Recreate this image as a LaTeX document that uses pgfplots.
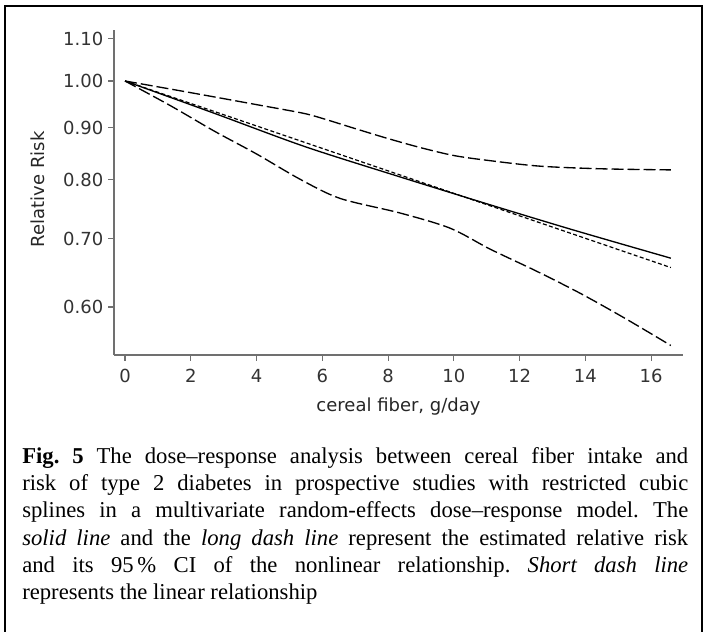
\documentclass[border=0pt]{standalone}
\usepackage{pgfplots}
\pgfplotsset{compat=1.18}
\usepackage{fontspec}
\setmainfont{Liberation Serif}
\newfontfamily\axfont{DejaVu Sans}
\definecolor{axgray}{HTML}{707070}
\definecolor{lblgray}{HTML}{333333}
\begin{document}
\begin{tikzpicture}
\useasboundingbox (0,0) rectangle (528.75pt,-473.25pt);
\draw[line width=1.7pt] (3.75pt,-474pt) -- (3.75pt,-4.5pt) -- (526.5pt,-4.5pt) -- (526.5pt,-474pt);
\begin{axis}[
  at={(85.5pt,-266.25pt)}, anchor=south west,
  scale only axis, width=426.75pt, height=243.75pt,
  ymode=log, xmin=-0.335, xmax=16.97, ymin=0.5383, ymax=1.1222,
  axis x line*=bottom, axis y line*=left,
  axis line style={axgray, line width=0.8pt},
  xtick={0,2,...,16}, ytick={0.6,0.7,0.8,0.9,1.0,1.1},
  yticklabels={0.60,0.70,0.80,0.90,1.00,1.10},
  yminorticks=false, xminorticks=false,
  /pgf/number format/assume math mode=true,
  tick style={axgray, line width=0.8pt}, tick align=outside, major tick length=4.5pt,
  ticklabel style={font=\axfont\fontsize{13.5}{15}\selectfont, text=lblgray},
  xticklabel style={yshift=-2.5pt},
  xlabel={cereal fiber, g/day}, ylabel={Relative Risk},
  label style={font=\axfont\fontsize{13.5}{15}\selectfont, text=black!85},
  xlabel style={at={(axis description cs:0.5,-0.16)}, anchor=center},
  ylabel style={at={(axis description cs:-0.1336,0.51)}, anchor=center},
  clip=false,
]
\addplot[black, line width=1pt, smooth] coordinates {(0,1) (2.74,0.929) (5.48,0.862) (8.37,0.805) (11.1,0.756) (13.64,0.714) (16.6,0.670)};
\addplot[black, line width=1pt, smooth, dash pattern=on 9pt off 3pt] coordinates {(0,1) (2,0.974) (4,0.948) (5.4,0.930) (6,0.919) (7,0.898) (8,0.878) (9,0.860) (10,0.845) (11,0.836) (12.6,0.825) (14.5,0.820) (16.6,0.818)};
\addplot[black, line width=1pt, smooth, dash pattern=on 9pt off 3pt] coordinates {(0,1) (1.4,0.945) (2.74,0.892) (4,0.848) (5.32,0.801) (6.54,0.767) (8.37,0.742) (9.89,0.717) (11.1,0.684) (12.5,0.651) (13.84,0.619) (15.2,0.585) (16.6,0.550)};
\addplot[black, line width=0.9pt, dash pattern=on 3pt off 1.8pt] coordinates {(0,1) (8.3,0.810) (16.6,0.656)};
\end{axis}
\node[anchor=north west, inner sep=0pt, text width=499.5pt, align=justify, font=\fontsize{17pt}{20.4pt}\selectfont] at (16.5pt,-335.5pt) {\frenchspacing\hyphenpenalty=10000 \textbf{Fig.\ 5} The dose--response analysis between cereal fiber intake and\linebreak risk of type 2 diabetes in prospective studies with restricted cubic\linebreak splines in a multivariate random-effects dose--response model. The\linebreak \textit{solid line} and the \textit{long dash line} represent the estimated relative risk\linebreak and its 95\,\% CI of the nonlinear relationship. \textit{Short dash line}\linebreak represents the linear relationship};
\end{tikzpicture}
\end{document}
